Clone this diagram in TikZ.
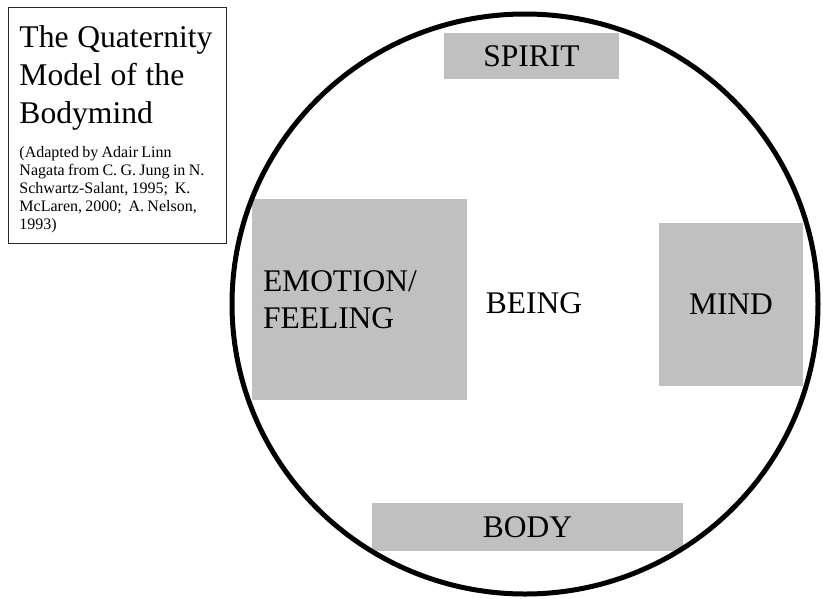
\documentclass[tikz,border=0pt]{standalone}
\usepackage{fontspec}
\setmainfont{Liberation Serif}
\usetikzlibrary{shapes.geometric}

\definecolor{boxgray}{RGB}{192,192,192}
\newcommand{\titlegap}{\hspace{8.7pt}}

\begin{document}
\begin{tikzpicture}[
    x=1pt, y=-1pt,
    bigfont/.style={font=\fontsize{31.5}{37}\selectfont},
    quarter/.style={rectangle, fill=boxgray, inner sep=0pt, bigfont, align=center},
    wordonly/.style={inner sep=0pt, bigfont},
    titlebox/.style={rectangle, draw=black!85, line width=1pt, anchor=north west, inner xsep=11pt, inner ysep=11pt, text width=196pt, align=left},
    ring/.style={ellipse, draw=black, line width=5pt, inner sep=0pt}
]
\useasboundingbox (0,0) rectangle (823,598);

% Title and sources
\node[titlebox] (title) at (8,7) {%
  {\fontsize{31.6}{38}\selectfont \rule{0pt}{29pt}\mbox{The\titlegap Quaternity}\\\mbox{Model\titlegap of\titlegap the}\\Bodymind\par}%
  \vspace{16pt}%
  {\fontsize{16}{18}\selectfont (Adapted by Adair Linn\\Nagata from C. G. Jung in N.\\Schwartz-Salant, 1995;\ \ K.\\McLaren, 2000;\ \ A. Nelson,\\1993)\par}};

% The four quarters
\node[quarter, minimum width=175pt, minimum height=46pt] (spirit) at (531.5,56) {SPIRIT};
\node[quarter, minimum width=215pt, minimum height=201pt, text width=193pt, inner xsep=11pt, align=left] (emotion) at (359.5,299.5) {EMOTION/\\FEELING};
\node[quarter, minimum width=144pt, minimum height=163pt] (mind) at (731,304.5) {MIND};
\node[quarter, minimum width=311pt, minimum height=48pt] (body) at (527.5,527) {BODY};

% Centre
\node[wordonly] (being) at (534,303) {BEING};

% Surrounding circle
\node[ring, minimum width=586pt, minimum height=580pt] (whole) at (525,304) {};

\end{tikzpicture}
\end{document}
